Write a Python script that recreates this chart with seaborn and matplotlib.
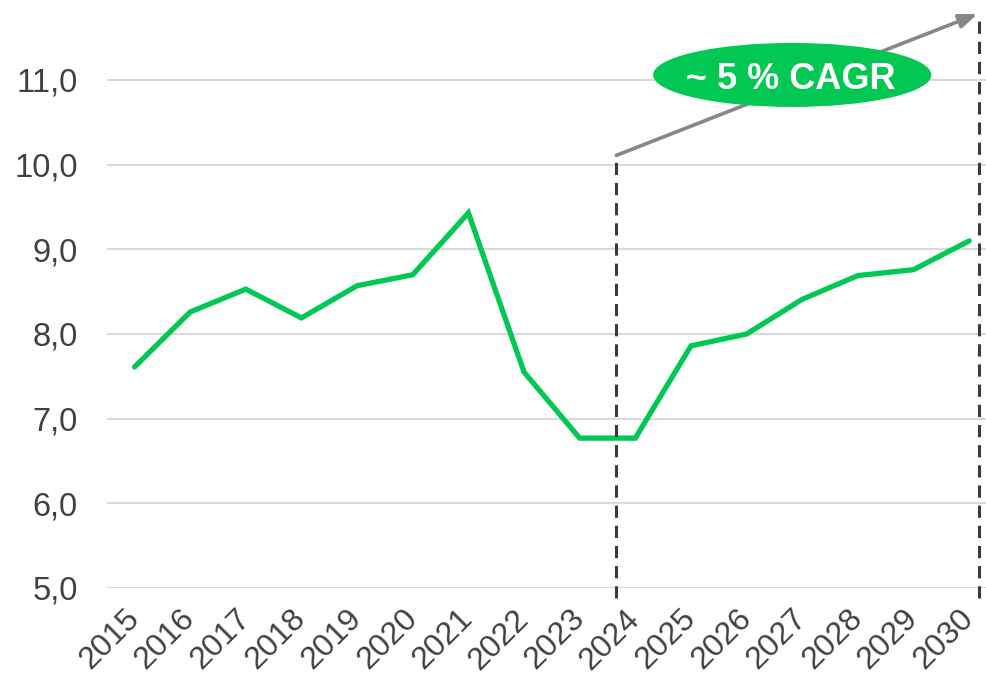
import matplotlib
matplotlib.use("Agg")
import matplotlib.pyplot as plt
from matplotlib.patches import Ellipse
from matplotlib.ticker import FuncFormatter
import seaborn as sns
import pandas as pd

# Annual values, 2015-2030
years = [2015, 2016, 2017, 2018, 2019, 2020, 2021, 2022,
         2023, 2024, 2025, 2026, 2027, 2028, 2029, 2030]
values = [7.61, 8.26, 8.53, 8.19, 8.57, 8.70, 9.43, 7.55,
          6.77, 6.77, 7.86, 8.00, 8.41, 8.69, 8.76, 9.10]
y_ticks = [5.0, 6.0, 7.0, 8.0, 9.0, 10.0, 11.0]
cagr_label = "~ 5 % CAGR"

GREEN = "#00C853"
TEXT = "#404040"

sns.set_theme(style="white")
plt.rcParams["font.family"] = ["Liberation Sans", "DejaVu Sans"]

fig = plt.figure(figsize=(9.87, 6.77), dpi=100)
W, H = 987, 677
# axes box in pixels: left 106.7, right 997, bottom y=588, top y≈3.8
ax = fig.add_axes([106.7 / W, 89 / H, (997 - 106.7) / W, (673.2 - 89) / H])

df = pd.DataFrame({"year": years, "value": values})
sns.lineplot(data=df, x="year", y="value", ax=ax, color=GREEN,
             linewidth=3.8, solid_joinstyle="miter", solid_capstyle="round")

ax.set_xlim(2014.5, 2030.5)
ax.set_ylim(5.0, 11.9)
ax.set_yticks(y_ticks)
ax.yaxis.set_major_formatter(FuncFormatter(lambda v, p: f"{v:.1f}".replace(".", ",")))
ax.set_xticks(years)
ax.set_xticklabels([str(y) for y in years], rotation=45, ha="right",
                   va="center", rotation_mode="anchor")
ax.tick_params(axis="x", labelsize=23, colors=TEXT, pad=19, length=0)
ax.tick_params(axis="y", labelsize=23.5, colors=TEXT, pad=21, length=0)
for lbl in ax.get_xticklabels():
    lbl.set_color(TEXT)

ax.grid(axis="y", color="#D9D9D9", linewidth=1.5)
ax.set_axisbelow(True)
for s in ax.spines.values():
    s.set_visible(False)
ax.set_xlabel("")
ax.set_ylabel("")

# forecast window markers
for xv, ytop in [(2023.66, 10.11), (2030.18, 11.78)]:
    ax.plot([xv, xv], [4.88, ytop], color="#3A3A3A", linewidth=2.2,
            linestyle=(0, (4, 2.6)), clip_on=False, zorder=3)

# growth arrow
ax.annotate("", xy=(2030.15, 11.78), xytext=(2023.66, 10.11),
            arrowprops=dict(arrowstyle="-|>,head_length=0.9,head_width=0.35",
                            color="#878787", linewidth=2.6,
                            shrinkA=0, shrinkB=0),
            zorder=4)

# CAGR badge
ax.add_patch(Ellipse((2026.82, 11.06), 5.0, 0.756, facecolor=GREEN,
                     edgecolor="none", zorder=5, clip_on=False))
ax.text(2026.80, 11.05, cagr_label, color="white", fontsize=26,
        fontweight="bold", ha="center", va="center_baseline", zorder=6)

fig.savefig("out.png", dpi=100)
